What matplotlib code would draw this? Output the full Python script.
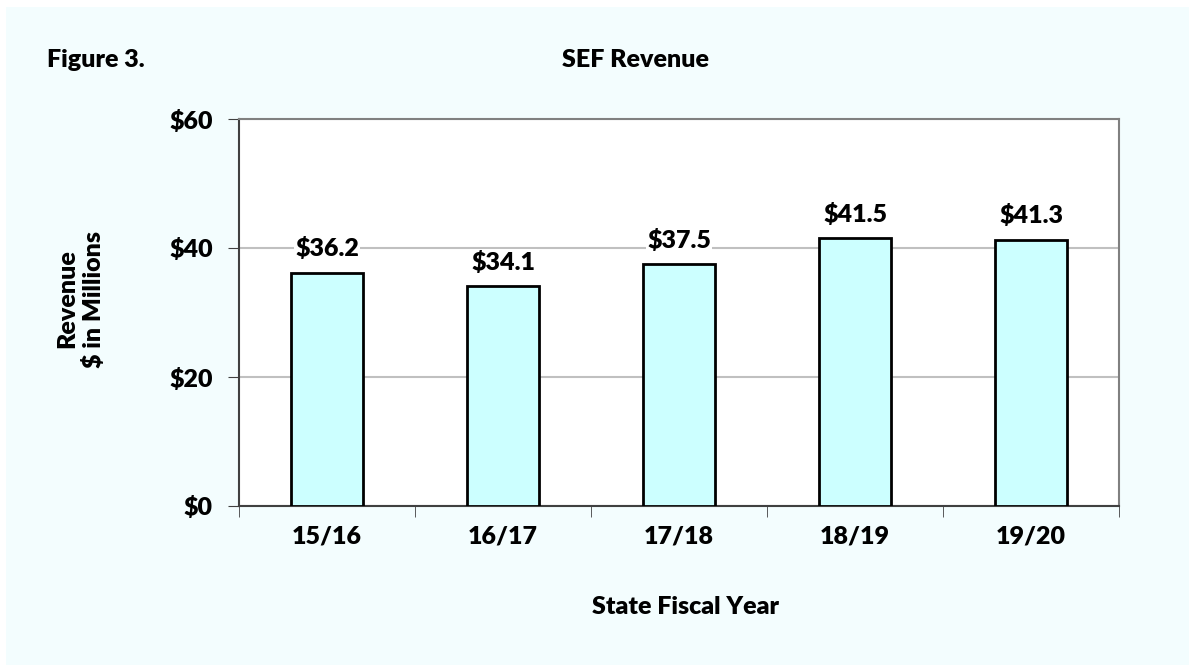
import matplotlib as mpl
mpl.use('Agg')
import matplotlib.pyplot as plt

years = ['15/16', '16/17', '17/18', '18/19', '19/20']
revenue = [36.2, 34.1, 37.5, 41.5, 41.3]
yticks = [0, 20, 40, 60]

plt.rcParams['font.family'] = ['Lato', 'DejaVu Sans']
plt.rcParams['font.weight'] = 'heavy'
FS = 18
W = 'heavy'

fig = plt.figure(figsize=(11.95, 6.65), dpi=100)
fig.patch.set_facecolor('white')
# light blue panel behind the chart
bg = plt.Rectangle((6/1195, 0), 1 - 12/1195, 1 - 7/665, transform=fig.transFigure,
                   facecolor='#F3FDFE', edgecolor='none', zorder=-10)
fig.patches.append(bg)

ax = fig.add_axes([239/1195, 1 - 506/665, 880/1195, 387/665])
ax.set_facecolor('white')

x = list(range(len(years)))
ax.bar(x, revenue, width=0.41, color='#CCFFFF', edgecolor='black', linewidth=2, zorder=3)
for xi, v in zip(x, revenue):
    ax.annotate('$%.1f' % v, (xi, v), xytext=(0, 9), textcoords='offset points',
                ha='center', va='bottom', fontsize=FS, fontweight=W, zorder=4,
                bbox=dict(facecolor='white', edgecolor='none', pad=1))

ax.set_xlim(-0.5, len(years) - 0.5)
ax.set_ylim(0, 60)
ax.set_yticks(yticks)
ax.set_yticklabels(['$%d' % t for t in yticks], fontsize=FS, fontweight=W)
ax.yaxis.grid(True, color='#C0C0C0', linewidth=1.5, zorder=0)
ax.set_axisbelow(True)

ax.set_xticks(x)
ax.set_xticklabels(years, fontsize=FS, fontweight=W)
ax.tick_params(axis='x', length=0, pad=14)
ax.set_xticks([i - 0.5 for i in range(len(years) + 1)], minor=True)
ax.tick_params(axis='x', which='minor', length=8, direction='out', color='#404040')
ax.tick_params(axis='y', length=8, direction='out', color='#404040', pad=11)

for s in ['top', 'right']:
    ax.spines[s].set_color('#808080')
    ax.spines[s].set_linewidth(1.5)
for s in ['left', 'bottom']:
    ax.spines[s].set_color('#404040')
    ax.spines[s].set_linewidth(1.5)

fig.text(47/1195, 1 - 60/665, 'Figure 3.', fontsize=FS, fontweight=W, va='center', ha='left')
fig.text(636/1195, 1 - 60/665, 'SEF Revenue', fontsize=FS, fontweight=W, va='center', ha='center')
fig.text(81/1195, 1 - 299/665, 'Revenue\n$ in Millions', fontsize=FS, fontweight=W,
         rotation=90, va='center', ha='center', linespacing=1.2)
fig.text(686/1195, 1 - 607/665, 'State Fiscal Year', fontsize=FS, fontweight=W,
         va='center', ha='center')

fig.savefig('out.png', dpi=100, facecolor=fig.get_facecolor())
